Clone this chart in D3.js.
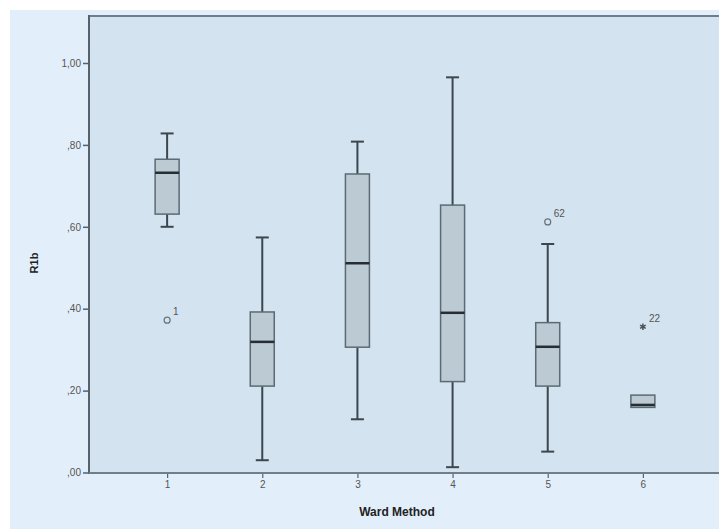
<!DOCTYPE html>
<html>
<head>
<meta charset="utf-8">
<script src="https://cdn.jsdelivr.net/npm/d3@7"></script>
<style>
body { margin: 0; background: #fff; }
svg text { font-family: Arial, "Liberation Sans", sans-serif; }
</style>
</head>
<body>
<div id="container"></div>
<script>
// box plot values (R1b by Ward Method cluster)
var groups = ["1", "2", "3", "4", "5", "6"];
var whiskerLow = [0.600, 0.030, 0.130, 0.013, 0.051, 0.159];
var q1 = [0.631, 0.211, 0.306, 0.222, 0.211, 0.159];
var medians = [0.732, 0.319, 0.511, 0.390, 0.307, 0.165];
var q3 = [0.765, 0.392, 0.729, 0.653, 0.366, 0.189];
var whiskerHigh = [0.828, 0.574, 0.808, 0.965, 0.558, 0.189];
// outliers: group, value, case label, kind (o = outlier, * = extreme)
var outlierGroups = ["1", "5", "6"];
var outlierValues = [0.372, 0.612, 0.356];
var outlierLabels = ["1", "62", "22"];
var outlierKinds = ["o", "o", "*"];
var yTicks = [0, 0.2, 0.4, 0.6, 0.8, 1.0];

(function()
{
	var width = 719, height = 529;
	var svg = d3.select("#container").append("svg")
		.attr("width", width).attr("height", height);

	// outer chart background
	svg.append("rect").attr("x", 10).attr("y", 10)
		.attr("width", width - 10).attr("height", height - 10)
		.attr("fill", "#e2effb");

	var left = 89, top = 16, right = 719, bottom = 473;

	var x = d3.scalePoint().domain(groups).range([left + 2, right]).padding(0.8);
	var y = d3.scaleLinear().domain([0, 1]).range([472.5, 63]);

	// plot area
	svg.append("rect").attr("x", left).attr("y", top)
		.attr("width", right - left).attr("height", bottom - top)
		.attr("fill", "#d4e3f0");
	svg.append("line").attr("x1", left).attr("x2", right)
		.attr("y1", top).attr("y2", top)
		.attr("stroke", "#6f7e8a").attr("stroke-width", 2);

	// y axis
	var fmt = function(d) { return d == 1 ? "1,00" : "," + d3.format(".2f")(d).split(".")[1]; };
	var yAxis = svg.append("g").attr("transform", "translate(" + left + ",0)")
		.call(d3.axisLeft(y).tickValues(yTicks).tickFormat(fmt).tickSize(6).tickPadding(2));
	yAxis.select(".domain").remove();
	yAxis.selectAll(".tick line").attr("stroke", "#55626c").attr("stroke-width", 1.5);
	yAxis.selectAll(".tick text").attr("fill", "#555").attr("font-size", "10px");
	svg.append("line").attr("x1", left).attr("x2", left)
		.attr("y1", top - 1).attr("y2", bottom + 1)
		.attr("stroke", "#55626c").attr("stroke-width", 2);

	// x axis
	var xAxis = svg.append("g").attr("transform", "translate(0," + bottom + ")")
		.call(d3.axisBottom(x).tickSize(5).tickPadding(3));
	xAxis.select(".domain").remove();
	xAxis.selectAll(".tick line").attr("stroke", "#55626c").attr("stroke-width", 1.2);
	xAxis.selectAll(".tick text").attr("fill", "#555").attr("font-size", "10px");
	svg.append("line").attr("x1", left).attr("x2", right)
		.attr("y1", bottom).attr("y2", bottom)
		.attr("stroke", "#6f7e8a").attr("stroke-width", 2);

	// axis titles
	svg.append("text").attr("x", 397).attr("y", 516).attr("text-anchor", "middle")
		.attr("font-size", "12px").attr("font-weight", "bold").attr("fill", "#222")
		.text("Ward Method");
	svg.append("text").attr("transform", "translate(38,263) rotate(-90)")
		.attr("text-anchor", "middle").attr("font-size", "11px")
		.attr("font-weight", "bold").attr("fill", "#222").text("R1b");

	var boxW = 24, capW = 13;
	var g = svg.append("g");
	groups.forEach(function(grp, i)
	{
		var cx = x(grp);
		if (whiskerHigh[i] > q3[i])
		{
			g.append("line").attr("x1", cx).attr("x2", cx)
				.attr("y1", y(q3[i])).attr("y2", y(whiskerHigh[i]))
				.attr("stroke", "#3c464e").attr("stroke-width", 2);
			g.append("line").attr("x1", cx - capW / 2).attr("x2", cx + capW / 2)
				.attr("y1", y(whiskerHigh[i])).attr("y2", y(whiskerHigh[i]))
				.attr("stroke", "#3c464e").attr("stroke-width", 2);
		}
		if (whiskerLow[i] < q1[i])
		{
			g.append("line").attr("x1", cx).attr("x2", cx)
				.attr("y1", y(q1[i])).attr("y2", y(whiskerLow[i]))
				.attr("stroke", "#3c464e").attr("stroke-width", 2);
			g.append("line").attr("x1", cx - capW / 2).attr("x2", cx + capW / 2)
				.attr("y1", y(whiskerLow[i])).attr("y2", y(whiskerLow[i]))
				.attr("stroke", "#3c464e").attr("stroke-width", 2);
		}
		g.append("rect").attr("x", cx - boxW / 2).attr("y", y(q3[i]))
			.attr("width", boxW).attr("height", y(q1[i]) - y(q3[i]))
			.attr("fill", "#bccad3").attr("stroke", "#5c6a74").attr("stroke-width", 1.5);
		g.append("line").attr("x1", cx - boxW / 2).attr("x2", cx + boxW / 2)
			.attr("y1", y(medians[i])).attr("y2", y(medians[i]))
			.attr("stroke", "#262e34").attr("stroke-width", 2.5);
	});

	// outliers and extremes
	outlierGroups.forEach(function(grp, i)
	{
		var cx = x(grp), cy = y(outlierValues[i]);
		if (outlierKinds[i] == "o")
			g.append("circle").attr("cx", cx).attr("cy", cy).attr("r", 3)
				.attr("fill", "none").attr("stroke", "#6a747c").attr("stroke-width", 1.2);
		else
			g.append("path").attr("transform", "translate(" + cx + "," + cy + ")")
				.attr("d", d3.symbol(d3.symbolAsterisk, 30)())
				.attr("fill", "none").attr("stroke", "#4a545c").attr("stroke-width", 1.5);
		g.append("text").attr("x", cx + 6).attr("y", cy - 5)
			.attr("font-size", "10px").attr("fill", "#555").text(outlierLabels[i]);
	});
})();
</script>
</body>
</html>
